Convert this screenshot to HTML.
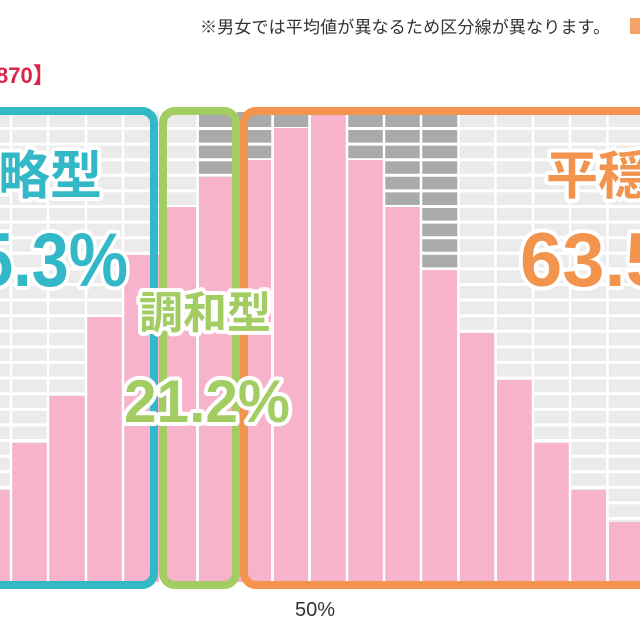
<!DOCTYPE html>
<html><head><meta charset="utf-8"><style>
html,body{margin:0;padding:0;background:#fff;}
svg{display:block;}
text{font-family:"Liberation Sans","Noto Sans CJK JP",sans-serif;}
</style></head><body>
<svg width="640" height="625" viewBox="0 0 640 625" xmlns="http://www.w3.org/2000/svg">
<text x="200" y="33" font-size="17" fill="#333" textLength="410">※男女では平均値が異なるため区分線が異なります。</text>
<rect x="630" y="18" width="12" height="16" fill="#f5a468"/>
<text x="-4" y="83" font-size="22" font-weight="bold" fill="#d8264a">870】</text>
<rect x="0" y="112" width="640" height="470" fill="#ebebeb"/>
<g fill="#a9aaac">
<rect x="199" y="112" width="36" height="66"/>
<rect x="237" y="112" width="35" height="49"/>
<rect x="274" y="112" width="35" height="17"/>
<rect x="348" y="112" width="36" height="49"/>
<rect x="385" y="112" width="36" height="96"/>
<rect x="422" y="112" width="36" height="159"/>
</g>
<g stroke="#fff" stroke-width="3">
<line x1="0" x2="640" y1="128.5" y2="128.5"/><line x1="0" x2="640" y1="144.1" y2="144.1"/><line x1="0" x2="640" y1="159.7" y2="159.7"/><line x1="0" x2="640" y1="175.3" y2="175.3"/><line x1="0" x2="640" y1="190.9" y2="190.9"/><line x1="0" x2="640" y1="206.5" y2="206.5"/><line x1="0" x2="640" y1="222.1" y2="222.1"/><line x1="0" x2="640" y1="237.7" y2="237.7"/><line x1="0" x2="640" y1="253.3" y2="253.3"/><line x1="0" x2="640" y1="268.9" y2="268.9"/><line x1="0" x2="640" y1="284.5" y2="284.5"/><line x1="0" x2="640" y1="300.1" y2="300.1"/><line x1="0" x2="640" y1="315.7" y2="315.7"/><line x1="0" x2="640" y1="331.3" y2="331.3"/><line x1="0" x2="640" y1="346.9" y2="346.9"/><line x1="0" x2="640" y1="362.5" y2="362.5"/><line x1="0" x2="640" y1="378.1" y2="378.1"/><line x1="0" x2="640" y1="393.7" y2="393.7"/><line x1="0" x2="640" y1="409.3" y2="409.3"/><line x1="0" x2="640" y1="424.9" y2="424.9"/><line x1="0" x2="640" y1="440.5" y2="440.5"/><line x1="0" x2="640" y1="456.1" y2="456.1"/><line x1="0" x2="640" y1="471.7" y2="471.7"/><line x1="0" x2="640" y1="487.3" y2="487.3"/><line x1="0" x2="640" y1="502.9" y2="502.9"/><line x1="0" x2="640" y1="518.5" y2="518.5"/><line x1="0" x2="640" y1="534.1" y2="534.1"/><line x1="0" x2="640" y1="549.7" y2="549.7"/><line x1="0" x2="640" y1="565.3" y2="565.3"/>
</g>
<g fill="#f7b3cb">
<rect x="0" y="490" width="10" height="92"/>
<rect x="12" y="443" width="35" height="139"/>
<rect x="49" y="396" width="36" height="186"/>
<rect x="87" y="317" width="35" height="265"/>
<rect x="124" y="255" width="35" height="327"/>
<rect x="162" y="207" width="34" height="375"/>
<rect x="199" y="177" width="35" height="405"/>
<rect x="237" y="160" width="34" height="422"/>
<rect x="274" y="128" width="34" height="454"/>
<rect x="311" y="112" width="35" height="470"/>
<rect x="348" y="160" width="35" height="422"/>
<rect x="385" y="207" width="35" height="375"/>
<rect x="422" y="270" width="35" height="312"/>
<rect x="460" y="333" width="35" height="249"/>
<rect x="497" y="380" width="35" height="202"/>
<rect x="534" y="443" width="35" height="139"/>
<rect x="571" y="490" width="35" height="92"/>
<rect x="609" y="522" width="35" height="60"/>
</g>
<g stroke="#fff" stroke-width="2.5">
<line x1="11" x2="11" y1="112" y2="582"/><line x1="48" x2="48" y1="112" y2="582"/><line x1="86" x2="86" y1="112" y2="582"/><line x1="123" x2="123" y1="112" y2="582"/><line x1="160.5" x2="160.5" y1="112" y2="582"/><line x1="197.5" x2="197.5" y1="112" y2="582"/><line x1="235.5" x2="235.5" y1="112" y2="582"/><line x1="272.5" x2="272.5" y1="112" y2="582"/><line x1="309.5" x2="309.5" y1="112" y2="582"/><line x1="347" x2="347" y1="112" y2="582"/><line x1="384" x2="384" y1="112" y2="582"/><line x1="421" x2="421" y1="112" y2="582"/><line x1="458.5" x2="458.5" y1="112" y2="582"/><line x1="495.5" x2="495.5" y1="112" y2="582"/><line x1="533" x2="533" y1="112" y2="582"/><line x1="570" x2="570" y1="112" y2="582"/><line x1="607.5" x2="607.5" y1="112" y2="582"/>
</g>
<rect x="-30" y="111" width="184" height="474" rx="12" fill="none" stroke="#33b8c8" stroke-width="8"/>
<rect x="163" y="111" width="73" height="474" rx="12" fill="none" stroke="#a3cc63" stroke-width="8"/>
<rect x="244" y="111" width="420" height="474" rx="12" fill="none" stroke="#f2944e" stroke-width="8"/>
<g font-weight="bold" stroke="#fff" stroke-width="8" stroke-linejoin="round" paint-order="stroke">
<text x="-2" y="194" font-size="52" fill="#33b8c8">略型</text>
<text x="-24" y="286" font-size="76" fill="#33b8c8" textLength="152" lengthAdjust="spacingAndGlyphs">5.3%</text>
<text x="139" y="328" font-size="44" fill="#a3cc63">調和型</text>
<text x="124" y="422" font-size="60" fill="#a3cc63" textLength="166" lengthAdjust="spacingAndGlyphs">21.2%</text>
<text x="546" y="194" font-size="52" fill="#f2944e">平穏</text>
<text x="520" y="286" font-size="76" fill="#f2944e">63.5</text>
</g>
<text x="295" y="616" font-size="20" fill="#333">50%</text>
</svg>
</body></html>
